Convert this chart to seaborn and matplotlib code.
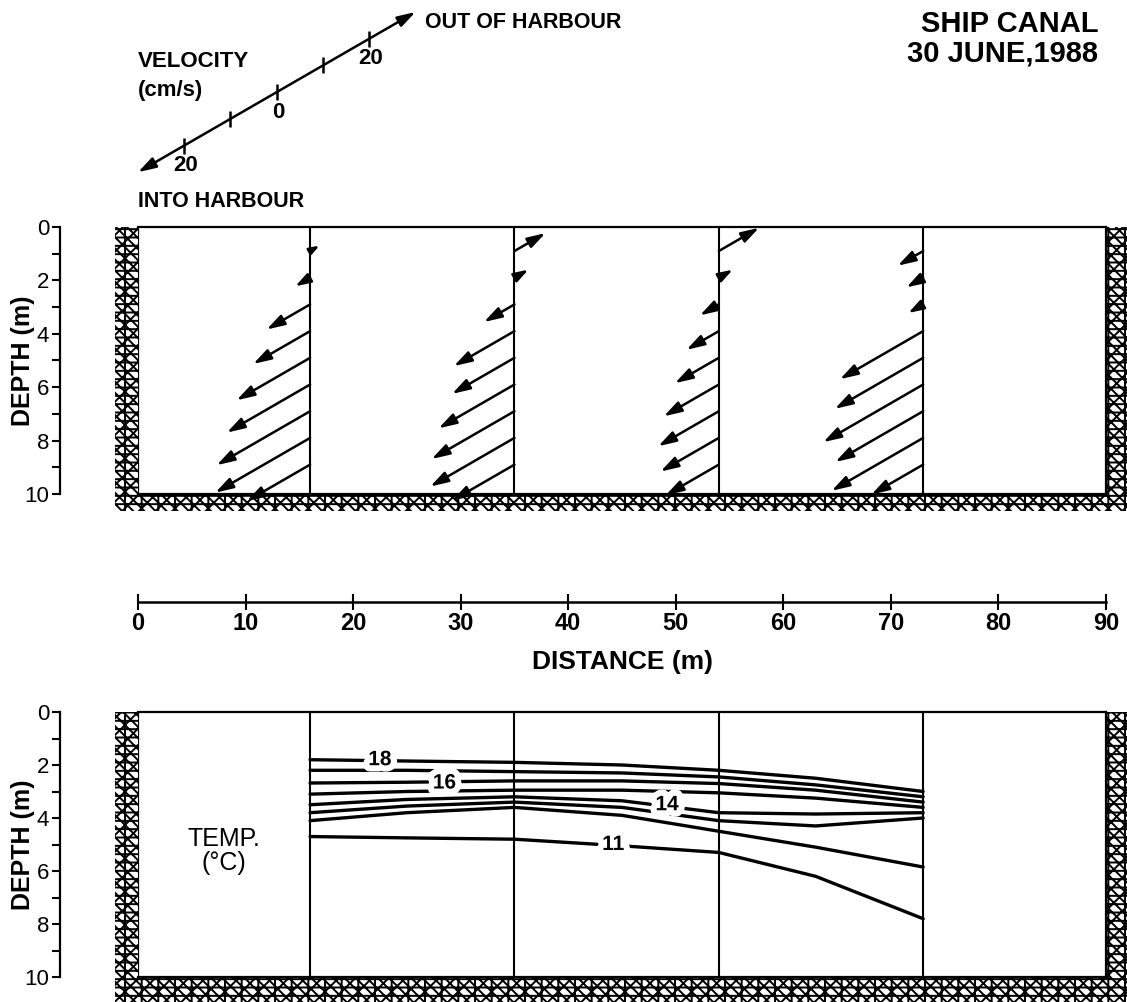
import numpy as np
import pandas as pd
import matplotlib.pyplot as plt
import matplotlib.patheffects as pe
from matplotlib.patches import Rectangle
import seaborn as sns

sns.set_theme(style='ticks', rc={'axes.edgecolor': 'black', 'xtick.color': 'black',
                                 'ytick.color': 'black', 'text.color': 'black',
                                 'axes.labelcolor': 'black'})
plt.rcParams['font.family'] = ['Liberation Sans', 'DejaVu Sans']
plt.rcParams['hatch.linewidth'] = 1.4

# --- velocity profiles (cm/s, + = out of harbour, - = into harbour)
stations = [16, 35, 54, 73]
vel_depths = [0.9, 1.9, 2.9, 3.9, 4.9, 5.9, 6.9, 7.9, 8.9]
vel_st1 = [2.0, -3.2, -9.4, -12.3, -15.9, -18.0, -20.2, -20.5, -13.7]
vel_st2 = [6.7, 3.0, -6.6, -13.1, -13.5, -16.4, -17.9, -18.2, -13.5]
vel_st3 = [8.7, 3.0, -4.1, -7.0, -9.5, -11.9, -13.1, -12.6, -11.5]
vel_st4 = [-5.5, -3.6, -3.2, -18.0, -19.1, -21.6, -19.0, -19.8, -11.2]
legend_ticks = [-20, -10, 0, 10, 20]
legend_labels = ['20', '', '0', '', '20']

# --- isotherms: depth (m) at distance (m)
iso_x = [16, 25, 35, 45, 54, 63, 73]
iso_18 = [1.8, 1.85, 1.9, 2.0, 2.2, 2.5, 3.0]
iso_17 = [2.2, 2.2, 2.25, 2.3, 2.45, 2.75, 3.2]
iso_16 = [2.68, 2.65, 2.6, 2.6, 2.7, 2.95, 3.4]
iso_15 = [3.1, 3.0, 2.95, 2.95, 3.05, 3.25, 3.6]
iso_14 = [3.5, 3.3, 3.2, 3.35, 3.8, 3.85, 3.8]
iso_13 = [3.8, 3.55, 3.4, 3.6, 4.1, 4.3, 4.0]
iso_12 = [4.1, 3.8, 3.6, 3.9, 4.5, 5.1, 5.85]
iso_11 = [4.7, 4.75, 4.8, 5.05, 5.3, 6.2, 7.8]
iso_temps = [18, 17, 16, 15, 14, 13, 12, 11]
iso_labels = {18: (22.5, 1.8), 16: (28.5, 2.68), 14: (49.2, 3.5), 11: (44.2, 5.0)}

KX, KZ = 0.43, 0.10   # arrow length per cm/s in distance / depth units
PX_PER_CMS = 5.35     # arrow length in pixels per cm/s

W, H = 1127, 1002
fig = plt.figure(figsize=(W / 100, H / 100), dpi=100)
L, Wd = 138 / W, 968 / W

ax_v = fig.add_axes([L, 1 - 215 / H, Wd, 215 / H])
ax_u = fig.add_axes([L, 1 - 494 / H, Wd, 267 / H])
ax_d = fig.add_axes([L, 1 - 602 / H, Wd, 0.0001])
ax_t = fig.add_axes([L, 1 - 977 / H, Wd, 265 / H])

hatch = '//\\\\\\--|'


def arrow_props(v, both=False):
    length = abs(v) * PX_PER_CMS
    hl = min(1.08, 0.75 * length / 13.9)
    hw = min(0.33, 0.25 * hl + 0.07)
    style = '%s,head_length=%.2f,head_width=%.2f' % ('<|-|>' if both else '-|>', hl, hw)
    return dict(arrowstyle=style, mutation_scale=10, color='black', lw=1.8,
                shrinkA=0, shrinkB=0)


def depth_panel(ax, ground):
    ax.set_xlim(0, 90)
    ax.set_ylim(10, 0)
    ax.set_xticks([])
    ax.set_yticks(range(0, 11, 2))
    ax.set_yticks(range(1, 10, 2), minor=True)
    ax.tick_params(axis='y', which='both', direction='out', length=6, width=1.5,
                   labelsize=16, pad=2)
    for lab in ax.get_yticklabels():
        lab.set_fontweight('bold')
    ax.spines['left'].set_position(('outward', 56))
    for s in ['left', 'right', 'top', 'bottom']:
        ax.spines[s].set_linewidth(1.6)
    ax.set_ylabel('DEPTH (m)', fontsize=18, fontweight='bold')
    ax.yaxis.set_label_coords(-0.106, 0.5)
    ax.axvline(0, color='black', lw=1.6)
    for s in stations:
        ax.axvline(s, color='black', lw=1.5)
    kw = dict(facecolor='white', edgecolor='black', hatch=hatch, lw=0, clip_on=False, zorder=0.5)
    ax.add_patch(Rectangle((-2.1, 0), 2.1, 10 + ground, **kw))
    ax.add_patch(Rectangle((90, 0), 2.0, 10 + ground, **kw))
    ax.add_patch(Rectangle((-2.1, 10), 94.1, ground, **kw))


depth_panel(ax_u, 0.65)
depth_panel(ax_t, 0.95)

# velocity arrows
for s, vals in zip(stations, [vel_st1, vel_st2, vel_st3, vel_st4]):
    for d, v in zip(vel_depths, vals):
        ax_u.annotate('', xy=(s + v * KX, d - v * KZ), xytext=(s, d),
                      annotation_clip=False, arrowprops=arrow_props(v))

# velocity key
ax_v.set_xlim(0, 90)
ax_v.set_ylim(215 / 26.7, 0)
ax_v.axis('off')
x0, z0 = 12.9, 3.45
ax_v.annotate('', xy=(x0 + 30 * KX, z0 - 30 * KZ), xytext=(x0 - 30 * KX, z0 + 30 * KZ),
              arrowprops=arrow_props(30, both=True))
for v, lab in zip(legend_ticks, legend_labels):
    ax_v.plot(x0 + v * KX, z0 - v * KZ, marker='|', ms=12, mew=1.8, color='black')
    if lab:
        ax_v.annotate(lab, (x0 + v * KX, z0 - v * KZ), xytext=(1, -7),
                      textcoords='offset points', ha='center', va='top',
                      fontsize=16, fontweight='bold')
ax_v.text(0, 2.51, 'VELOCITY', fontsize=16, fontweight='bold', va='baseline')
ax_v.text(0, 3.6, '(cm/s)', fontsize=16, fontweight='bold', va='baseline')
ax_v.text(0, 7.75, 'INTO HARBOUR', fontsize=15.5, fontweight='bold', va='baseline')
ax_v.text(26.7, 1.05, 'OUT OF HARBOUR', fontsize=15.5, fontweight='bold', va='baseline')
ax_v.text(89.3, 1.2, 'SHIP CANAL', fontsize=21, fontweight='bold', ha='right', va='baseline')
ax_v.text(89.3, 2.32, '30 JUNE,1988', fontsize=21, fontweight='bold', ha='right', va='baseline')

# distance axis
ax_d.set_xlim(0, 90)
ax_d.set_yticks([])
for s in ['left', 'right', 'top']:
    ax_d.spines[s].set_visible(False)
ax_d.spines['bottom'].set_linewidth(1.8)
ax_d.set_xticks(range(0, 91, 10))
ax_d.tick_params(axis='x', direction='inout', length=12, width=1.5, labelsize=17, pad=1)
for lab in ax_d.get_xticklabels():
    lab.set_fontweight('bold')
ax_d.set_xlabel('DISTANCE (m)', fontsize=19, fontweight='bold', labelpad=11)

# isotherms
iso_df = pd.DataFrame({
    'distance': iso_x * len(iso_temps),
    'depth': iso_18 + iso_17 + iso_16 + iso_15 + iso_14 + iso_13 + iso_12 + iso_11,
    'temp': np.repeat(iso_temps, len(iso_x)),
})
sns.lineplot(data=iso_df, x='distance', y='depth', units='temp', estimator=None,
             sort=False, color='black', lw=2.4, ax=ax_t)
ax_t.set_xlabel('')
ax_t.set_ylim(10, 0)
ax_t.set_xlim(0, 90)
ax_t.set_xticks([])
for t, (lx, ly) in iso_labels.items():
    ax_t.text(lx, ly, str(t), fontsize=15, fontweight='bold', ha='center', va='center',
              zorder=5, path_effects=[pe.withStroke(linewidth=9, foreground='white')])
ax_t.text(8.0, 5.25, 'TEMP.\n(°C)', fontsize=18, ha='center', va='center', linespacing=1.0)

fig.savefig('out.png', dpi=100)
